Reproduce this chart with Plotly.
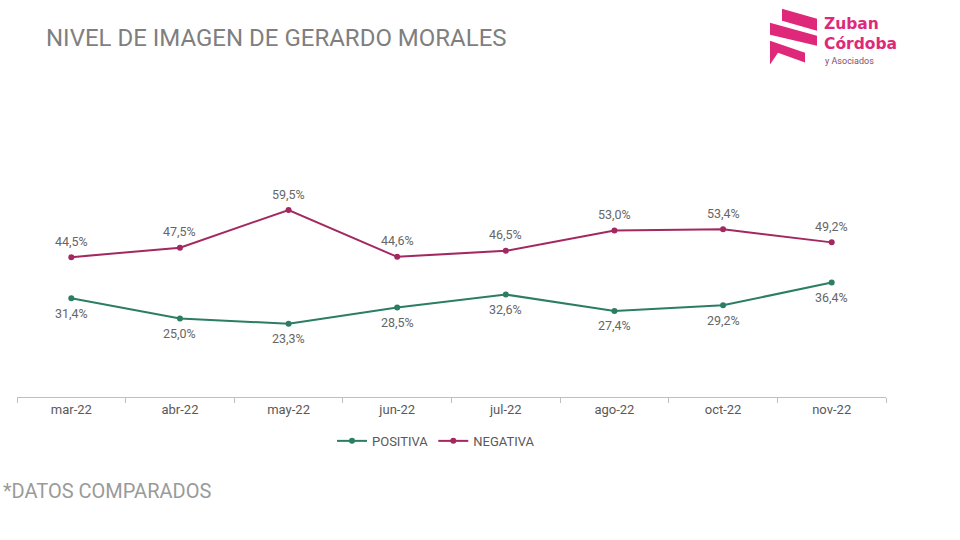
import plotly.graph_objects as go

categories = ["mar-22", "abr-22", "may-22", "jun-22", "jul-22", "ago-22", "oct-22", "nov-22"]
positiva = [31.4, 25.0, 23.3, 28.5, 32.6, 27.4, 29.2, 36.4]
negativa = [44.5, 47.5, 59.5, 44.6, 46.5, 53.0, 53.4, 49.2]

C_POS = "#2b7d63"
C_NEG = "#a3285f"
C_LOGO = "#e0287a"
FONT = "Roboto"

W, H = 960, 540
L, R_PX, T_PX, B_PX = 17, 886, 176.6, 397


def px(x):
    return (x - L) / (R_PX - L)


def py(y):
    return (B_PX - y) / (B_PX - T_PX)


def fmt(v):
    return f"{v:.1f}".replace(".", ",") + "%"


fig = go.Figure()
fig.add_trace(go.Scatter(x=categories, y=positiva, name="POSITIVA", mode="lines+markers",
                         line=dict(color=C_POS, width=2), marker=dict(size=6, color=C_POS)))
fig.add_trace(go.Scatter(x=categories, y=negativa, name="NEGATIVA", mode="lines+markers",
                         line=dict(color=C_NEG, width=2), marker=dict(size=6, color=C_NEG)))

ann = []
for c, v in zip(categories, positiva):
    ann.append(dict(x=c, y=v, text=fmt(v), showarrow=False, yshift=-15,
                    font=dict(family=FONT, size=12.5, color="#666666")))
for c, v in zip(categories, negativa):
    ann.append(dict(x=c, y=v, text=fmt(v), showarrow=False, yshift=16,
                    font=dict(family=FONT, size=12.5, color="#666666")))

# title, footer, logo text
ann.append(dict(xref="paper", yref="paper", x=px(44), y=py(37), xanchor="left", yanchor="middle",
                text="NIVEL DE IMAGEN DE GERARDO MORALES", showarrow=False,
                font=dict(family=FONT, size=24, color="#7f7f7f")))
ann.append(dict(xref="paper", yref="paper", x=px(1), y=py(491), xanchor="left", yanchor="middle",
                text="*DATOS COMPARADOS", showarrow=False,
                font=dict(family=FONT, size=20, color="#9a9a9a")))
ann.append(dict(xref="paper", yref="paper", x=px(822), y=py(23.5), xanchor="left", yanchor="middle",
                text="<b>Zuban</b>", showarrow=False,
                font=dict(family="DejaVu Sans", size=15.5, color=C_LOGO)))
ann.append(dict(xref="paper", yref="paper", x=px(822), y=py(43.5), xanchor="left", yanchor="middle",
                text="<b>Córdoba</b>", showarrow=False,
                font=dict(family="DejaVu Sans", size=15.5, color=C_LOGO)))
ann.append(dict(xref="paper", yref="paper", x=px(823), y=py(60), xanchor="left", yanchor="middle",
                text="y Asociados", showarrow=False,
                font=dict(family=FONT, size=9, color="#8a4a68")))


def poly(pts):
    d = "M " + " L ".join(f"{px(a):.4f},{py(b):.4f}" for a, b in pts) + " Z"
    return dict(type="path", xref="paper", yref="paper", path=d,
                fillcolor=C_LOGO, line=dict(width=0), layer="above")


shapes = [
    poly([(782, 8), (817, 18), (817, 30), (782, 20)]),
    poly([(770, 22), (817, 35), (817, 45), (770, 34)]),
    poly([(770, 40), (805, 52), (805, 62), (778, 52), (770, 64)]),
]

fig.update_layout(
    width=W, height=H,
    margin=dict(l=L, r=W - R_PX, t=T_PX, b=H - B_PX),
    paper_bgcolor="white", plot_bgcolor="white",
    showlegend=True,
    legend=dict(orientation="h", x=px(436), y=py(441), xanchor="center", yanchor="middle",
                font=dict(family=FONT, size=13, color="#595959"), itemwidth=30,
                tracegroupgap=0),
    xaxis=dict(type="category", range=[-0.5, len(categories) - 0.5], autorange=False,
               showgrid=False, showline=True, linecolor="#bfbfbf", linewidth=1,
               ticks="outside", tickson="boundaries", ticklen=5, tickcolor="#bfbfbf",
               tickfont=dict(family=FONT, size=13, color="#595959"), zeroline=False),
    yaxis=dict(range=[0, 70], visible=False, showgrid=False, zeroline=False),
    annotations=ann, shapes=shapes,
    font=dict(family=FONT),
)

fig.write_html("out.html", config={"displayModeBar": False},
               post_script="document.body.style.margin='0';document.body.style.overflow='hidden';")
